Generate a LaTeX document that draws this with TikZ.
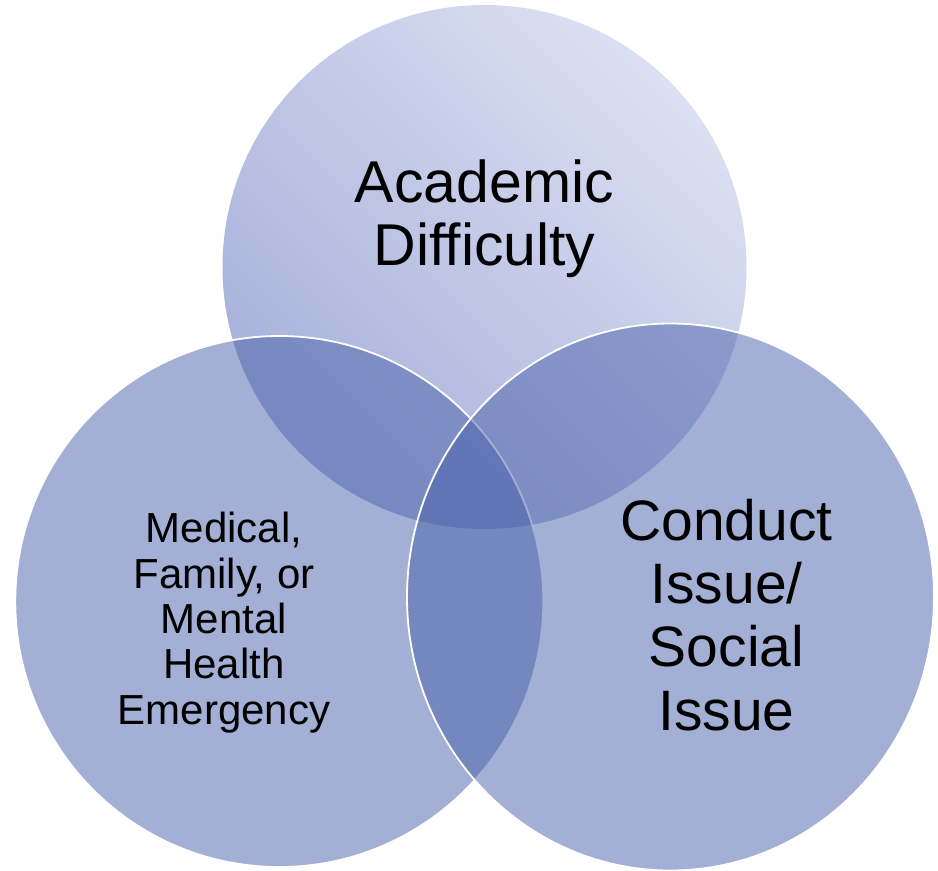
\documentclass[tikz,border=0pt]{standalone}
\usepackage{fontspec}
\setmainfont{Liberation Sans}
\definecolor{ovl}{RGB}{73,97,171}
\definecolor{toplight}{RGB}{220,224,242}
\definecolor{topdark}{RGB}{166,176,218}
\tikzset{
  overlaycircle/.style={fill=ovl, fill opacity=0.5, draw=white, draw opacity=1, line width=1.8pt},
  lbl/.style={align=center, inner sep=0pt, anchor=base, text=black}
}
\begin{document}
\begin{tikzpicture}[x=1pt,y=-1pt]
\useasboundingbox (0,0) rectangle (938,871);
\fill[white] (0,0) rectangle (938,871);
% top circle
\shade[top color=toplight, bottom color=topdark, shading angle=-45] (484.5,267) circle[radius=262];
% left circle
\path[overlaycircle] (279.3,601.5) circle[x radius=264, y radius=265.5];
% right circle
\path[overlaycircle] (670.5,597) circle[x radius=263.5, y radius=273.5];
% labels (base anchor = baseline of last line)
\node[lbl, font=\fontsize{59}{63}\selectfont] (acad) at (484.5,265) {Academic\\Difficulty};
\node[lbl, font=\fontsize{42}{45.3}\selectfont] (med) at (224,724) {Medical,\\Family, or\\Mental\\Health\\Emergency};
\node[lbl, font=\fontsize{57}{63.3}\selectfont] (cond) at (726.5,730) {Conduct\\Issue/\\Social\\Issue};
\end{tikzpicture}
\end{document}
